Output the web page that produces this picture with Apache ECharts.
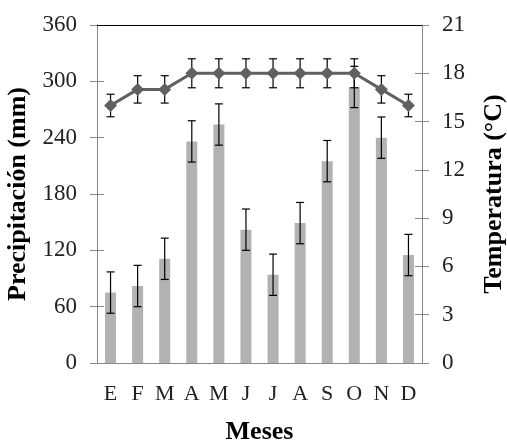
<!DOCTYPE html>
<html>
<head>
<meta charset="utf-8">
<script src="https://cdn.jsdelivr.net/npm/echarts@6/dist/echarts.min.js"></script>
<style>
  html, body { margin: 0; padding: 0; background: #fff; }
  #chart { width: 507px; height: 443px; }
</style>
</head>
<body>
<div id="chart"></div>
<script>
// datos
var meses = ['E', 'F', 'M', 'A', 'M', 'J', 'J', 'A', 'S', 'O', 'N', 'D'];
var precip = [75, 82, 111, 236, 254, 142, 94, 149, 215, 294, 240, 115];
var precipErr = [22, 22, 22, 22, 22, 22, 22, 22, 22, 22, 22, 22];
var temp = [16, 17, 17, 18, 18, 18, 18, 18, 18, 18, 17, 16];
var tempErr = [0.7, 0.85, 0.85, 0.9, 0.9, 0.9, 0.9, 0.9, 0.9, 0.9, 0.85, 0.7];

var fuente = 'Liberation Serif';

function errData(vals, errs) {
  return vals.map(function (v, i) { return [i, v - errs[i], v + errs[i]]; });
}

function errRender(params, api) {
  var x = api.value(0);
  var lo = api.coord([x, api.value(1)]);
  var hi = api.coord([x, api.value(2)]);
  var w = 4;
  var st = { stroke: '#000', lineWidth: 1.2 };
  return {
    type: 'group',
    children: [
      { type: 'line', shape: { x1: lo[0], y1: lo[1], x2: hi[0], y2: hi[1] }, style: st },
      { type: 'line', shape: { x1: lo[0] - w, y1: lo[1], x2: lo[0] + w, y2: lo[1] }, style: st },
      { type: 'line', shape: { x1: hi[0] - w, y1: hi[1], x2: hi[0] + w, y2: hi[1] }, style: st }
    ]
  };
}

var chart = echarts.init(document.getElementById('chart'));
var ejeGris = { lineStyle: { color: '#888', width: 1 } };
var tituloEje = { fontFamily: fuente, fontSize: 26, fontWeight: 'bold', color: '#000' };

var option = {
  animation: false,
  grid: { left: 97, right: 85, top: 25, bottom: 80, outerBoundsMode: 'none', containLabel: false },
  xAxis: [{
    type: 'category',
    data: meses,
    name: 'Meses',
    nameLocation: 'middle',
    nameGap: 56,
    nameTextStyle: tituloEje,
    axisLine: ejeGris,
    axisTick: { length: 7, lineStyle: { color: '#888' } },
    axisLabel: { fontFamily: fuente, fontSize: 22, color: '#222', margin: 20 }
  }, {
    type: 'category',
    data: meses,
    position: 'bottom',
    axisLine: ejeGris,
    axisTick: { inside: true, length: 7, lineStyle: { color: '#888' } },
    axisLabel: { show: false }
  }],
  yAxis: [{
    type: 'value',
    min: 0, max: 360, interval: 60,
    name: 'Precipitación (mm)',
    nameLocation: 'middle',
    nameRotate: 90,
    nameGap: 59,
    nameTextStyle: tituloEje,
    axisLine: { show: true, lineStyle: { color: '#888' } },
    axisTick: { show: true, length: 7, lineStyle: { color: '#888' } },
    splitLine: { show: false },
    axisLabel: { fontFamily: fuente, fontSize: 23, color: '#222', margin: 20 }
  }, {
    type: 'value',
    min: 0, max: 21, interval: 3,
    name: 'Temperatura (°C)',
    nameLocation: 'middle',
    nameRotate: 90,
    nameGap: 59,
    nameTextStyle: tituloEje,
    axisLine: { show: true, lineStyle: { color: '#888' } },
    axisTick: { show: true, length: 7, lineStyle: { color: '#888' } },
    splitLine: { show: false },
    axisLabel: { fontFamily: fuente, fontSize: 23, color: '#222', margin: 20 }
  }, {
    type: 'value', position: 'left',
    min: 0, max: 360, interval: 60,
    axisLine: { show: false },
    axisTick: { show: true, inside: true, length: 7, lineStyle: { color: '#888' } },
    axisLabel: { show: false }, splitLine: { show: false }
  }, {
    type: 'value', position: 'right',
    min: 0, max: 21, interval: 3,
    axisLine: { show: false },
    axisTick: { show: true, inside: true, length: 7, lineStyle: { color: '#888' } },
    axisLabel: { show: false }, splitLine: { show: false }
  }],
  series: [{
    type: 'bar',
    data: precip,
    yAxisIndex: 0,
    barWidth: 11,
    itemStyle: { color: '#b2b2b2' },
    markLine: {
      silent: true, symbol: 'none', label: { show: false },
      lineStyle: { color: '#000', type: 'solid', width: 1.2 },
      data: [{ yAxis: 360 }]
    }
  }, {
    type: 'custom',
    renderItem: errRender,
    yAxisIndex: 0,
    data: errData(precip, precipErr),
    encode: { x: 0, y: [1, 2] },
    z: 3
  }, {
    type: 'custom',
    renderItem: errRender,
    yAxisIndex: 1,
    data: errData(temp, tempErr),
    encode: { x: 0, y: [1, 2] },
    z: 3
  }, {
    type: 'line',
    data: temp,
    yAxisIndex: 1,
    symbol: 'diamond',
    symbolSize: 13,
    lineStyle: { color: '#606060', width: 3 },
    itemStyle: { color: '#606060' },
    z: 4
  }]
};
chart.setOption(option);
</script>
</body>
</html>
